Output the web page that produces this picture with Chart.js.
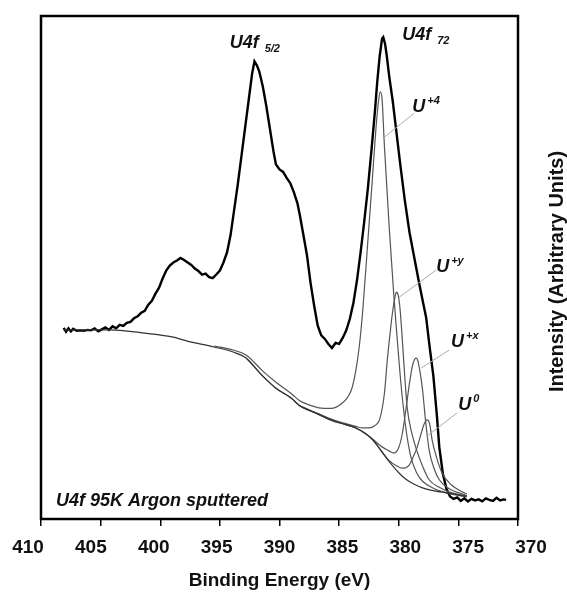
<!DOCTYPE html>
<html>
<head>
<meta charset="utf-8">
<script src="https://cdn.jsdelivr.net/npm/chart.js@4.4.1/dist/chart.umd.min.js"></script>
<style>
  html, body { margin: 0; padding: 0; background: #fff; }
  #grafico { display: block; }
</style>
</head>
<body>
<canvas id="grafico" width="567" height="592"></canvas>
<script>
// measured spectrum (binding energy in eV, intensity arbitrary)
const dataEnergy = [408.1, 407.9, 407.7, 407.5, 407.3, 407.0, 406.7, 406.4, 406.1, 405.8, 405.5, 405.2, 404.9, 404.6, 404.3, 404.0, 403.7, 403.4, 403.1, 402.8, 402.5, 402.2, 401.9, 401.6, 401.3, 401.0, 400.7, 400.4, 400.1, 399.8, 399.5, 399.2, 398.9, 398.6, 398.3, 398.0, 397.7, 397.4, 397.1, 396.8, 396.5, 396.2, 395.9, 395.6, 395.3, 395.0, 394.7, 394.4, 394.1, 393.8, 393.5, 393.2, 392.9, 392.6, 392.3, 392.1, 391.9, 391.7, 391.4, 391.1, 390.8, 390.5, 390.3, 390.0, 389.7, 389.4, 389.1, 388.8, 388.5, 388.3, 388.0, 387.7, 387.4, 387.1, 386.8, 386.5, 386.2, 385.9, 385.6, 385.3, 385.0, 384.7, 384.4, 384.1, 383.8, 383.5, 383.2, 382.9, 382.6, 382.3, 382.0, 381.8, 381.6, 381.4, 381.3, 381.15, 381.0, 380.8, 380.5, 380.2, 379.9, 379.5, 379.1, 378.7, 378.3, 378.0, 377.7, 377.4, 377.1, 376.8, 376.6, 376.3, 376.0, 375.7, 375.4, 375.1, 374.8, 374.5, 374.2, 373.9, 373.6, 373.3, 373.0, 372.7, 372.4, 372.1, 371.8, 371.5, 371.2, 371.0];
const dataCounts = [38.0, 37.2, 37.9, 37.3, 37.8, 37.4, 37.5, 37.4, 37.6, 37.5, 37.9, 37.3, 37.7, 38.1, 37.6, 38.3, 37.9, 38.6, 38.4, 39.0, 39.2, 39.9, 40.3, 41.0, 41.4, 42.6, 43.4, 44.8, 46.0, 47.8, 49.4, 50.4, 51.0, 51.4, 51.9, 51.5, 51.0, 50.5, 49.8, 49.3, 48.6, 48.8, 48.1, 47.9, 48.6, 49.4, 51.0, 53.0, 56.5, 61.5, 66.5, 72.0, 77.5, 83.0, 88.5, 91.0, 90.2, 89.0, 86.0, 82.0, 77.5, 73.0, 70.5, 69.5, 69.0, 67.8, 66.8, 65.0, 62.8, 60.5, 56.5, 52.5, 47.0, 42.5, 38.5, 36.5, 35.8, 34.8, 34.0, 35.0, 34.8, 36.0, 37.5, 39.8, 43.0, 47.5, 53.0, 59.0, 65.5, 73.0, 81.0, 87.0, 92.0, 95.5, 95.8, 94.5, 92.0, 88.0, 83.0, 77.0, 71.0, 63.5, 57.0, 52.0, 47.0, 43.5, 40.0, 34.0, 28.5, 20.5, 14.3, 9.0, 6.0, 4.5, 4.0, 4.3, 3.6, 4.1, 3.5, 4.0, 3.7, 3.9, 3.5, 4.1, 3.8, 3.6, 4.2, 3.7, 3.9, 3.8];

// Shirley background
const bgEnergy = [408.1, 404.2, 401.5, 399.0, 397.8, 395.5, 393.9, 392.8, 391.4, 390.3, 389.0, 388.3, 386.7, 385.6, 384.5, 383.6, 382.8, 382.2, 381.5, 380.8, 380.0, 379.4, 378.7, 378.0, 377.0, 376.0, 375.0, 374.3];
const bgValues = [37.6, 37.6, 37.0, 36.2, 35.4, 34.2, 33.2, 32.0, 28.4, 26.0, 24.0, 22.5, 20.8, 19.6, 18.8, 18.1, 17.0, 15.8, 13.6, 11.4, 9.2, 7.9, 6.9, 6.2, 5.6, 5.2, 4.8, 4.5];

// fitted components (on background)
const u4Energy = [395.5, 393.9, 392.8, 391.4, 390.3, 389.0, 388.3, 387.4, 386.7, 385.6, 384.7, 384.2, 383.9, 383.6, 383.3, 383.0, 382.6, 382.2, 381.9, 381.7, 381.55, 381.4, 381.2, 380.8, 380.4, 380.1, 379.8, 379.4, 379.0, 378.5, 378.0, 377.0, 376.0, 375.0, 374.3];
const u4Values = [34.4, 33.6, 32.6, 29.4, 27.2, 24.9, 23.5, 22.6, 22.1, 22.0, 23.1, 24.5, 26.2, 29.5, 34.5, 42.0, 55.0, 68.0, 78.0, 83.0, 84.9, 83.5, 74.0, 58.0, 44.0, 35.0, 26.5, 18.0, 12.5, 9.2, 7.5, 6.0, 5.2, 4.7, 4.4];

const uyEnergy = [392.8, 391.4, 390.3, 389.0, 388.3, 386.7, 385.6, 384.5, 383.6, 383.0, 382.5, 382.0, 381.6, 381.2, 380.96, 380.7, 380.5, 380.3, 380.2, 380.05, 379.9, 379.7, 379.5, 379.3, 378.9, 378.5, 378.0, 377.45, 376.6, 375.8, 375.0, 374.3];
const uyValues = [32.0, 28.4, 26.0, 24.0, 22.5, 20.9, 19.8, 19.0, 18.4, 18.1, 18.1, 18.6, 19.8, 25.0, 31.6, 37.5, 41.5, 44.3, 45.1, 44.5, 42.0, 35.6, 28.5, 22.3, 17.0, 13.7, 10.5, 7.8, 6.3, 5.4, 4.9, 4.6];

const uxEnergy = [388.3, 386.7, 385.6, 384.5, 383.6, 382.8, 382.2, 381.5, 381.1, 380.8, 380.4, 380.0, 379.7, 379.37, 379.1, 378.85, 378.65, 378.54, 378.4, 378.2, 378.0, 377.75, 377.45, 377.0, 376.6, 375.9, 375.2, 374.3];
const uxValues = [22.5, 20.8, 19.6, 18.8, 18.1, 17.0, 15.9, 14.5, 13.9, 13.5, 13.1, 14.2, 17.0, 22.3, 27.0, 30.5, 31.8, 32.0, 31.5, 29.0, 25.6, 19.5, 13.7, 9.8, 7.8, 6.2, 5.4, 4.7];

const u0Energy = [388.3, 386.7, 385.6, 384.5, 383.6, 382.8, 382.2, 381.5, 380.8, 380.2, 379.7, 379.4, 379.12, 378.8, 378.45, 378.1, 377.85, 377.62, 377.4, 377.2, 376.8, 376.36, 375.6, 374.7, 374.3];
const u0Values = [22.5, 20.8, 19.6, 18.8, 18.1, 17.0, 15.8, 13.7, 11.6, 10.6, 10.1, 10.2, 10.7, 12.3, 14.3, 17.2, 19.0, 19.7, 18.8, 15.7, 12.0, 9.1, 6.8, 5.4, 5.0];

const xTicks = [410, 405, 400, 395, 390, 385, 380, 375, 370];

// labels in data units: [energy, intensity, main text, small text, small text raised?]
const etiquetas = [
  [394.18, 93.6, 'U4f', '5/2', false],
  [379.71, 95.2, 'U4f', '72', false],
  [378.87, 80.9, 'U', '+4', true],
  [376.86, 49.1, 'U', '+y', true],
  [375.61, 34.2, 'U', '+x', true],
  [375.02, 21.7, 'U', '0', true]
];
// leader lines [e1, i1, e2, i2]
const guias = [
  [378.70, 80.7, 381.21, 75.9],
  [376.86, 49.5, 379.96, 44.1],
  [375.77, 33.6, 378.12, 30.0],
  [375.10, 21.1, 377.62, 16.5]
];

function puntos(xs, ys) {
  return xs.map((x, i) => ({ x: x, y: ys[i] }));
}

const fino = { showLine: true, pointRadius: 0, borderWidth: 1.2, borderColor: '#555', fill: false, cubicInterpolationMode: 'monotone' };

const datasets = [
  Object.assign({ label: 'Background', data: puntos(bgEnergy, bgValues) }, fino, { borderColor: '#333' }),
  Object.assign({ label: 'U+4', data: puntos(u4Energy, u4Values) }, fino),
  Object.assign({ label: 'U+y', data: puntos(uyEnergy, uyValues) }, fino),
  Object.assign({ label: 'U+x', data: puntos(uxEnergy, uxValues) }, fino),
  Object.assign({ label: 'U0', data: puntos(u0Energy, u0Values) }, fino),
  { label: 'U4f', data: puntos(dataEnergy, dataCounts), showLine: true, pointRadius: 0, borderWidth: 2.4, borderColor: '#000', fill: false, tension: 0 }
];

const fuente = '"Liberation Sans", Arial, sans-serif';

const marco = {
  id: 'marco',
  afterDatasetsDraw(chart) {
    const { ctx, chartArea: a, scales } = chart;
    const sx = scales.x, sy = scales.y;
    ctx.save();
    // leader lines
    ctx.strokeStyle = '#aaa';
    ctx.lineWidth = 1;
    guias.forEach(g => {
      ctx.beginPath();
      ctx.moveTo(sx.getPixelForValue(g[0]), sy.getPixelForValue(g[1]));
      ctx.lineTo(sx.getPixelForValue(g[2]), sy.getPixelForValue(g[3]));
      ctx.stroke();
    });
    // box
    ctx.strokeStyle = '#000';
    ctx.lineWidth = 2.5;
    ctx.strokeRect(a.left, a.top, a.right - a.left, a.bottom - a.top);
    // labels
    ctx.fillStyle = '#111';
    ctx.textBaseline = 'alphabetic';
    ctx.textAlign = 'left';
    etiquetas.forEach(e => {
      const px = sx.getPixelForValue(e[0]);
      const py = sy.getPixelForValue(e[1]);
      ctx.font = 'italic bold 18px ' + fuente;
      ctx.fillText(e[2], px, py);
      const w = ctx.measureText(e[2]).width;
      ctx.font = 'italic bold 11px ' + fuente;
      if (e[4]) ctx.fillText(e[3], px + w + 2, py - 8);
      else ctx.fillText(e[3], px + w + 6, py + 4);
    });
    ctx.font = 'italic bold 18px ' + fuente;
    ctx.fillText('U4f 95K Argon sputtered', sx.getPixelForValue(408.74), sy.getPixelForValue(2.6));
    // y axis title on the right
    ctx.translate(557, (a.top + a.bottom) / 2 + 4);
    ctx.rotate(-Math.PI / 2);
    ctx.textAlign = 'center';
    ctx.textBaseline = 'middle';
    ctx.font = 'bold 20px ' + fuente;
    ctx.fillText('Intensity (Arbitrary Units)', 0, 0);
    ctx.restore();
  }
};

const graph = document.querySelector('#grafico');

new Chart(graph, {
  type: 'scatter',
  data: { datasets: datasets },
  plugins: [marco],
  options: {
    responsive: false,
    animation: false,
    layout: { padding: { left: 41, right: 49, top: 16, bottom: 0 } },
    plugins: { legend: { display: false }, tooltip: { enabled: false } },
    scales: {
      x: {
        type: 'linear',
        position: 'bottom',
        weight: 0,
        reverse: true,
        min: 370,
        max: 410,
        afterBuildTicks: s => { s.ticks = xTicks.map(v => ({ value: v })); },
        afterFit: s => { s.height = 7; },
        ticks: { display: false },
        grid: { display: true, drawOnChartArea: false, drawTicks: true, tickLength: 7, color: '#000', lineWidth: 1.5 },
        border: { display: true, color: '#000', width: 2 }
      },
      // label row: the printed labels sit slightly wider apart than the tick marks
      xLabels: {
        type: 'linear',
        position: 'bottom',
        weight: 1,
        reverse: true,
        min: 371.034,
        max: 408.966,
        afterBuildTicks: s => { s.ticks = xTicks.map(v => ({ value: v })); },
        afterFit: s => { s.height = 66; },
        ticks: { color: '#111', padding: 10, autoSkip: false, maxRotation: 0, font: { family: fuente, size: 19, weight: 'bold' } },
        grid: { display: false, drawTicks: false },
        border: { display: false },
        title: { display: true, text: 'Binding Energy (eV)', color: '#111', padding: { top: 0, bottom: 0 }, font: { family: fuente, size: 19, weight: 'bold' } }
      },
      y: { display: false, min: 0, max: 100 }
    }
  }
});
</script>
</body>
</html>
